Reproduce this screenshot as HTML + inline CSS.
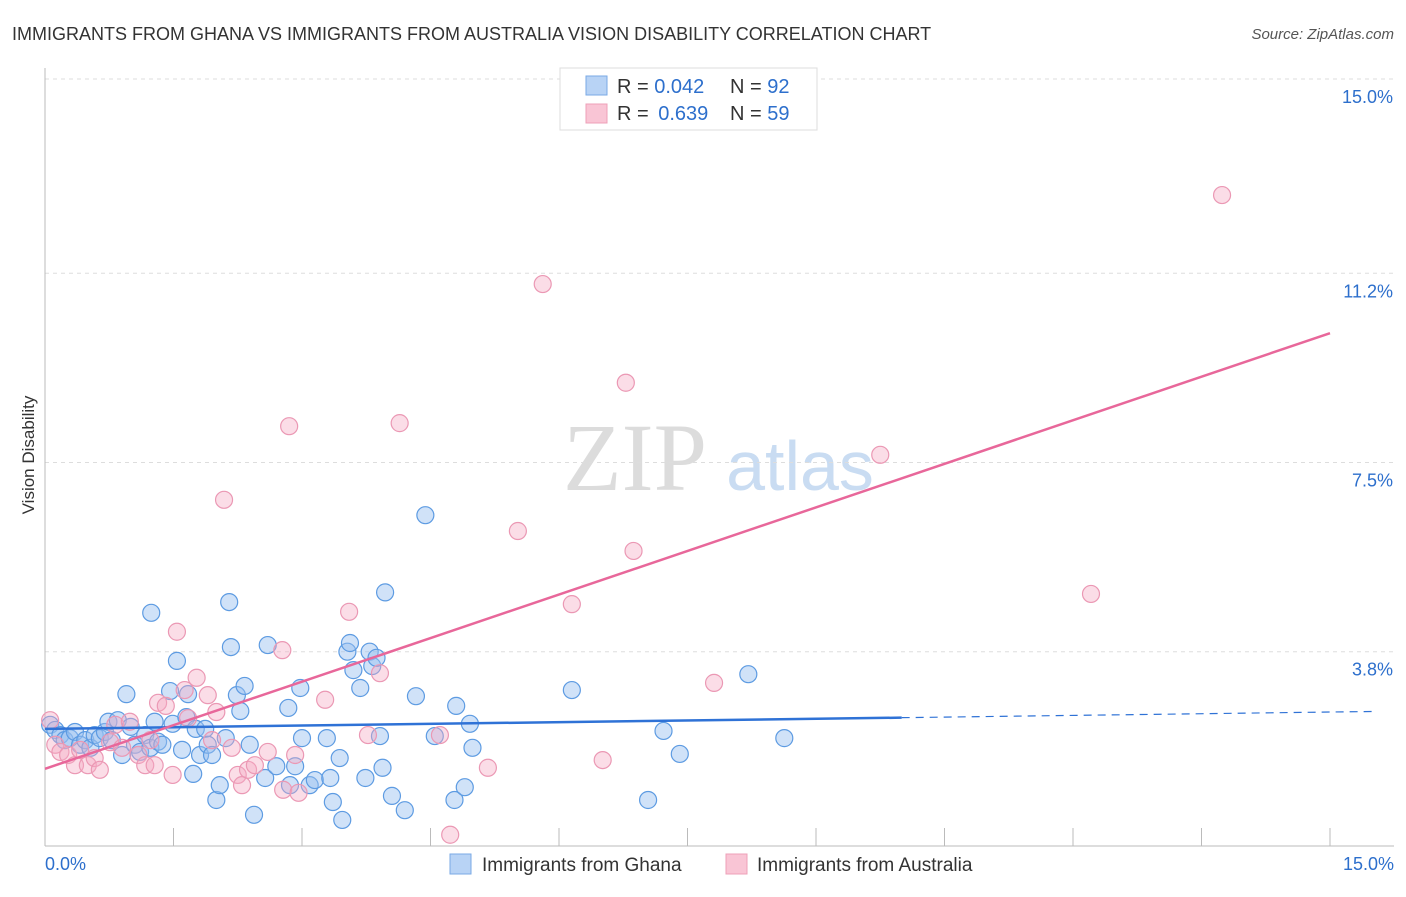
<!DOCTYPE html>
<html><head><meta charset="utf-8"><style>
body{margin:0;background:#fff;font-family:"Liberation Sans",sans-serif}
</style></head><body>
<svg id="chart" width="1406" height="892" xmlns="http://www.w3.org/2000/svg" style="font-family:'Liberation Sans',sans-serif">
<text x="12" y="40" font-size="18" fill="#333">IMMIGRANTS FROM GHANA VS IMMIGRANTS FROM AUSTRALIA VISION DISABILITY CORRELATION CHART</text>
<text x="1394" y="39" font-size="15" fill="#555" text-anchor="end" font-style="italic">Source: ZipAtlas.com</text>
<text x="34" y="455" font-size="17" fill="#333" text-anchor="middle" transform="rotate(-90 34 455)">Vision Disability</text>
<g>
<text x="635" y="490" font-size="96" fill="#dcdcdc" text-anchor="middle" font-family="Liberation Serif,serif">ZIP</text>
<text x="800" y="490" font-size="70" fill="#c9dcf2" text-anchor="middle">atlas</text>
</g>
<g id="grid"></g><g id="ticks"></g>
<g id="pts"></g><g id="lines"></g>
<g>
<rect x="560" y="68" width="257" height="62" fill="#fff" stroke="#ddd"/>
<rect x="586" y="76" width="21" height="19" fill="#b8d3f5" stroke="#7aaae5"/>
<rect x="586" y="104" width="21" height="19" fill="#f9c5d5" stroke="#eea0b8"/>
<text x="617" y="93" font-size="20" fill="#333">R = <tspan fill="#2d6fcc">0.042</tspan><tspan x="730">N = </tspan><tspan fill="#2d6fcc">92</tspan></text>
<text x="617" y="120" font-size="20" fill="#333">R = <tspan fill="#2d6fcc" dx="4">0.639</tspan><tspan x="730">N = </tspan><tspan fill="#2d6fcc">59</tspan></text>
</g>
<g>
<rect x="450" y="854" width="21" height="20" fill="#b8d3f5" stroke="#7aaae5"/>
<text x="482" y="871" font-size="19" fill="#333">Immigrants from Ghana</text>
<rect x="726" y="854" width="21" height="20" fill="#f9c5d5" stroke="#eea0b8"/>
<text x="757" y="871" font-size="19" fill="#333">Immigrants from Australia</text>
</g>
</svg>
<script>
const yTicks=[3.8,7.5,11.2,15.0];
const yTickLabels=["3.8%","7.5%","11.2%","15.0%"];
const xTickVals=[0,1.5,3,4.5,6,7.5,9,10.5,12,13.5,15];
const xEndLabels=["0.0%","15.0%"];
const ghanaX=[0.06,0.12,0.18,0.23,0.29,0.35,0.41,0.47,0.53,0.58,0.64,0.70,0.74,0.78,0.85,0.90,0.95,1.00,1.05,1.11,1.17,1.23,1.24,1.28,1.32,1.37,1.46,1.49,1.54,1.60,1.65,1.67,1.73,1.76,1.81,1.87,1.90,1.95,2.00,2.04,2.11,2.15,2.17,2.24,2.28,2.33,2.39,2.44,2.57,2.60,2.70,2.84,2.86,2.92,2.98,3.00,3.09,3.15,3.29,3.33,3.36,3.44,3.47,3.53,3.56,3.60,3.68,3.74,3.79,3.82,3.87,3.91,3.94,3.97,4.05,4.20,4.33,4.44,4.55,4.78,4.80,4.90,4.96,4.99,6.15,7.04,7.22,7.41,8.21,8.63];
const ghanaY=[2.37,2.27,2.17,2.07,2.11,2.23,1.98,2.07,1.92,2.17,2.11,2.23,2.43,2.07,2.46,1.78,2.97,2.33,1.98,1.84,2.17,1.92,4.56,2.43,2.04,1.98,3.03,2.39,3.62,1.88,2.52,2.97,1.41,2.29,1.78,2.29,1.98,1.78,0.90,1.19,2.11,4.77,3.89,2.95,2.64,3.13,1.98,0.61,1.33,3.93,1.56,2.70,1.19,1.56,3.09,2.11,1.19,1.29,2.11,1.33,0.86,1.72,0.51,3.80,3.97,3.44,3.09,1.33,3.80,3.52,3.68,2.15,1.53,4.96,0.98,0.70,2.93,6.47,2.15,0.90,2.74,1.15,2.39,1.92,3.05,0.90,2.25,1.80,3.36,2.11];
const ausX=[0.06,0.12,0.18,0.27,0.35,0.41,0.50,0.58,0.64,0.76,0.82,0.90,0.99,1.09,1.17,1.23,1.28,1.32,1.41,1.49,1.54,1.63,1.67,1.77,1.90,1.95,2.00,2.09,2.18,2.25,2.30,2.37,2.45,2.60,2.77,2.78,2.85,2.92,2.96,3.27,3.55,3.77,3.91,4.14,4.61,4.73,5.17,5.52,5.81,6.15,6.51,6.78,6.87,7.81,9.75,12.21,13.74];
const ausY=[2.46,1.98,1.84,1.78,1.58,1.88,1.58,1.72,1.49,2.03,2.37,1.92,2.43,1.78,1.58,2.07,1.58,2.80,2.74,1.39,4.19,3.05,2.50,3.29,2.95,2.07,2.62,6.77,1.92,1.39,1.19,1.49,1.58,1.84,3.83,1.10,8.21,1.78,1.04,2.86,4.58,2.17,3.38,8.27,2.17,0.22,1.53,6.16,10.99,4.73,1.68,9.06,5.77,3.19,7.65,4.93,12.73];
const ghanaTrend=[2.29,0.022];
const ausTrend=[1.51,0.568];
const L=45,R=1330,T=79,B=846;
const xs=v=>L+(R-L)*v/15;
const ys=v=>B-(B-T)*v/15;
const NS="http://www.w3.org/2000/svg";
function mk(tag,attrs,parent){const e=document.createElementNS(NS,tag);for(const k in attrs)e.setAttribute(k,attrs[k]);parent.appendChild(e);return e;}
const grid=document.getElementById('grid'),ticks=document.getElementById('ticks');
yTicks.forEach((v,i)=>{
 const g=mk('line',{x1:L,x2:1394,y1:ys(v),y2:ys(v),stroke:'#ddd','stroke-dasharray':'4 4'},grid);
 
 
 const t=mk('text',{x:1393,y:ys(v)+24,'font-size':18,fill:'#2d6fcc','text-anchor':'end'},ticks);
 t.textContent=yTickLabels[i];
 
 
});
const ax=mk('line',{x1:L,x2:L,y1:68,y2:B,stroke:'#bbb'},grid);


const bx=mk('line',{x1:L,x2:1394,y1:B,y2:B,stroke:'#bbb'},grid);


xTickVals.forEach(v=>{
 const t=mk('line',{x1:xs(v),x2:xs(v),y1:828,y2:B,stroke:'#bbb'},ticks);
 
 
});
const xl0=mk('text',{x:45,y:870,'font-size':18,fill:'#2d6fcc'},ticks);xl0.textContent=xEndLabels[0];


const xl1=mk('text',{x:1394,y:870,'font-size':18,fill:'#2d6fcc','text-anchor':'end'},ticks);xl1.textContent=xEndLabels[1];


const pts=document.getElementById('pts');
ghanaX.forEach((x,i)=>{
 const c=mk('circle',{cx:xs(x),cy:ys(ghanaY[i]),r:8.5,fill:'rgba(150,190,240,0.45)',stroke:'#5d9be2','stroke-width':1.2},pts);
 
 
});
ausX.forEach((x,i)=>{
 const c=mk('circle',{cx:xs(x),cy:ys(ausY[i]),r:8.5,fill:'rgba(245,170,195,0.4)',stroke:'#eb98b4','stroke-width':1.2},pts);
 
 
});
const lines=document.getElementById('lines');
const [ga,gb]=ghanaTrend;
const l1=mk('line',{x1:xs(0),y1:ys(ga),x2:xs(10),y2:ys(ga+gb*10),stroke:'#2f72d6','stroke-width':2.5},lines);


const l2=mk('line',{x1:xs(10),y1:ys(ga+gb*10),x2:xs(15.5),y2:ys(ga+gb*15.5),stroke:'#2f72d6','stroke-width':1.2,'stroke-dasharray':'8 6'},lines);


const [aa,ab]=ausTrend;
const l3=mk('line',{x1:xs(0),y1:ys(aa),x2:xs(15),y2:ys(aa+ab*15),stroke:'#e8679a','stroke-width':2.5},lines);


</script>
</body></html>
